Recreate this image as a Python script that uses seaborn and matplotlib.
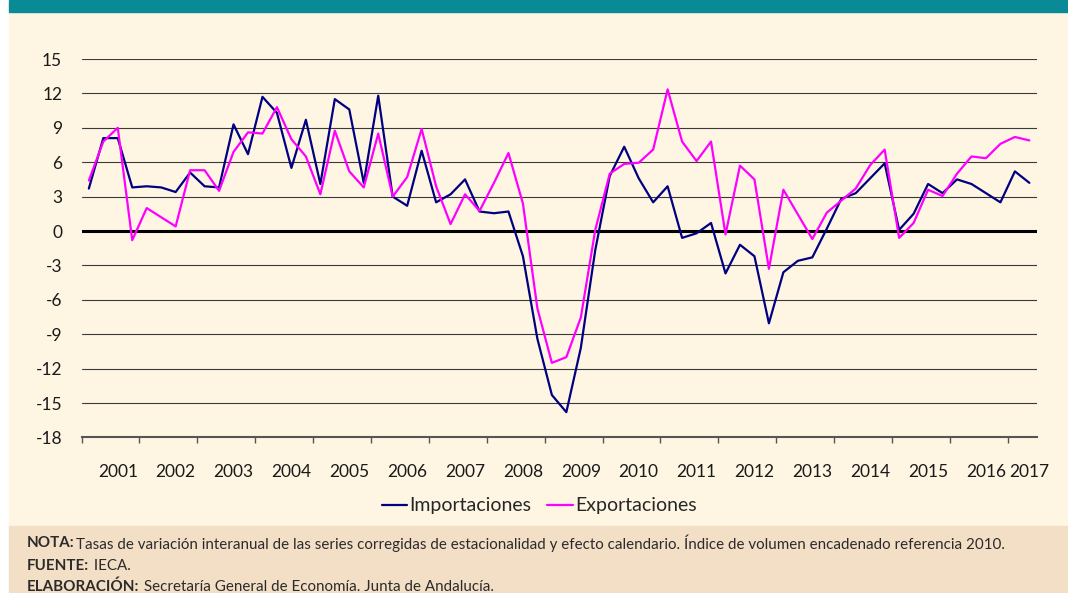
import numpy as np
import pandas as pd
import seaborn as sns
import matplotlib.pyplot as plt
from matplotlib.patches import Rectangle

# datos trimestrales 2001T1 - 2017T2
anios = list(range(2001, 2018))
trimestres = [f"{a}T{t}" for a in anios for t in range(1, 5)][:66]

importaciones = [3.7, 8.1, 8.1, 3.8, 3.9, 3.8, 3.4, 5.1, 3.9, 3.8, 9.3, 6.7,
                 11.7, 10.3, 5.5, 9.7, 4.1, 11.5, 10.6, 4.2, 11.8, 3.0, 2.2, 7.0,
                 2.5, 3.2, 4.5, 1.7, 1.55, 1.7, -2.2, -9.4, -14.3, -15.8, -10.2, -1.65,
                 4.8, 7.35, 4.6, 2.5, 3.9, -0.6, -0.2, 0.7, -3.7, -1.2, -2.2, -8.05,
                 -3.6, -2.6, -2.3, 0.2, 2.8, 3.3, 4.6, 5.9, 0.1, 1.5, 4.1, 3.3,
                 4.5, 4.1, 3.3, 2.5, 5.2, 4.2]

exportaciones = [4.4, 7.8, 9.0, -0.8, 2.0, 1.2, 0.4, 5.3, 5.3, 3.5, 6.9, 8.6,
                 8.5, 10.8, 8.0, 6.5, 3.2, 8.75, 5.2, 3.8, 8.5, 3.0, 4.7, 8.9,
                 3.9, 0.6, 3.2, 1.75, 4.2, 6.8, 2.4, -6.75, -11.5, -11.0, -7.55, 0.1,
                 5.0, 5.85, 5.95, 7.1, 12.35, 7.8, 6.1, 7.8, -0.3, 5.7, 4.5, -3.3,
                 3.6, 1.45, -0.7, 1.6, 2.65, 3.7, 5.75, 7.1, -0.6, 0.7, 3.6, 3.05,
                 5.0, 6.5, 6.35, 7.6, 8.2, 7.9]

etiquetas_anio = [str(a) for a in anios]
yticks = list(range(-18, 16, 3))

df = pd.DataFrame({
    'periodo': trimestres * 2,
    'valor': importaciones + exportaciones,
    'serie': ['Importaciones'] * len(trimestres) + ['Exportaciones'] * len(trimestres),
})

sns.set_theme(style='white')
plt.rcParams['font.family'] = ['Lato', 'DejaVu Sans']

W, H = 1068, 593
fig = plt.figure(figsize=(W / 100, H / 100), dpi=100)
fig.patch.set_facecolor('white')

# fondos
fig.patches.append(Rectangle((9 / W, 67.3 / H), 1 - 9 / W, (525.7 - 12) / H,
                             transform=fig.transFigure, color='#FEF6E3', zorder=-2))
fig.patches.append(Rectangle((9 / W, 0), 1 - 9 / W, 67.3 / H,
                             transform=fig.transFigure, color='#F3DFC5', zorder=-2))
fig.patches.append(Rectangle((9 / W, 1 - 12 / H), 1 - 9 / W, 12 / H,
                             transform=fig.transFigure, color='#0A8A97', zorder=-2))

ax = fig.add_axes([81.6 / W, 1 - 437.4 / H, 955 / W, (437.4 - 59) / H])
ax.set_facecolor('none')

sns.lineplot(data=df, x='periodo', y='valor', hue='serie', ax=ax,
             palette={'Importaciones': '#000080', 'Exportaciones': '#FF00FF'},
             linewidth=1.6, sort=False)

ax.set_xlim(-0.5, len(trimestres) - 0.5)
ax.set_ylim(-18, 15)
ax.set_yticks(yticks)
ax.set_yticklabels([str(v) for v in yticks])
ax.yaxis.grid(True, color='#3a3a3a', linewidth=0.8)
ax.set_axisbelow(True)
ax.axhline(0, color='black', linewidth=2.2, zorder=1.5)

# marcas entre años y etiquetas en el tercer trimestre
limites = np.arange(-0.5, len(trimestres) - 2, 4)
pos_etiq = [min(4 * i + 2, len(trimestres) - 1) for i in range(len(anios))]
ax.set_xticks(limites)
ax.set_xticklabels([''] * len(limites))
ax.set_xticks(pos_etiq, minor=True)
ax.set_xticklabels(etiquetas_anio, minor=True)
ax.tick_params(axis='x', which='major', length=4.5, width=1, color='#555555',
               direction='out', bottom=True)
ax.tick_params(axis='x', which='minor', length=0, pad=19, labelsize=12.5,
               labelcolor='#1a1a1a', bottom=True)
ax.tick_params(axis='y', length=0, pad=14, labelsize=12.5, labelcolor='#1a1a1a')
ax.set_xlabel('')
ax.set_ylabel('')

for lado in ['top', 'right', 'left']:
    ax.spines[lado].set_visible(False)
ax.spines['bottom'].set_color('#555555')
ax.spines['bottom'].set_linewidth(1.5)

handles, labels = ax.get_legend_handles_labels()
ax.get_legend().remove()
fig.legend(handles, labels, loc='center', bbox_to_anchor=(0.505, 1 - 506 / H),
           ncol=2, frameon=False, fontsize=14, handlelength=1.3,
           handletextpad=0.15, columnspacing=0.8)

# notas (ajusta el tamaño para que la primera línea ocupe el mismo ancho)
notas = [
    ('NOTA:', 'Tasas de variación interanual de las series corregidas de estacionalidad y efecto calendario. Índice de volumen encadenado referencia 2010.', 543),
    ('FUENTE:', ' IECA.', 566),
    ('ELABORACIÓN:', ' Secretaría General de Economía. Junta de Andalucía.', 587),
]
renderer = fig.canvas.get_renderer()
prueba = fig.text(0, 0, notas[0][0] + notas[0][1], fontsize=10, fontstretch='condensed')
ancho = prueba.get_window_extent(renderer=renderer).width
prueba.remove()
tam = 10 * 972 / ancho

for negrita, resto, yy in notas:
    t = fig.text(27 / W, 1 - yy / H, negrita, fontsize=tam, fontweight='bold',
                 fontstretch='condensed', color='#2b2b2b', va='center', ha='left')
    bb = t.get_window_extent(renderer=renderer)
    fig.text(bb.x1 / W + 1 / W, 1 - yy / H, resto, fontsize=tam,
             fontstretch='condensed', color='#2b2b2b', va='center', ha='left')

fig.savefig('out.png', dpi=100)
